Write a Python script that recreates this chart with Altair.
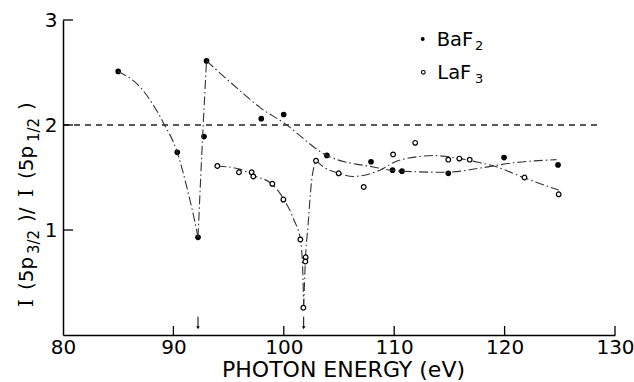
import altair as alt
import pandas as pd

# ---------------- values ----------------
baf2_energy = [85.0, 90.35, 92.23, 92.77, 93.0, 97.96, 99.99, 103.9, 107.9, 109.85, 110.7, 114.9, 119.95, 124.84]
baf2_ratio = [2.51, 1.74, 0.93, 1.89, 2.61, 2.06, 2.10, 1.71, 1.65, 1.57, 1.56, 1.54, 1.69, 1.62]

laf3_energy = [93.98, 95.94, 97.09, 97.24, 98.96, 99.96, 101.5, 101.98, 101.95, 101.77,
               102.92, 104.97, 107.24, 109.9, 111.9, 114.9, 115.9, 116.84, 121.8, 124.9]
laf3_ratio = [1.61, 1.55, 1.55, 1.51, 1.44, 1.29, 0.91, 0.74, 0.70, 0.26,
              1.66, 1.54, 1.41, 1.72, 1.83, 1.67, 1.68, 1.67, 1.50, 1.34]

# guide curves drawn through the data, in branches
baf2_fit_energy = [85.0, 87.0, 89.1, 90.35, 91.35, 91.9, 92.23,
                   92.23, 92.45, 92.7, 93.0,
                   93.0, 96.0, 97.8, 100.0, 103.9, 108.1, 110.5, 114.75, 117.8, 120.8, 124.7]
baf2_fit_ratio = [2.51, 2.36, 2.02, 1.74, 1.35, 1.10, 0.93,
                  0.93, 1.45, 2.0, 2.61,
                  2.61, 2.33, 2.17, 2.02, 1.71, 1.60, 1.56, 1.55, 1.59, 1.64, 1.67]
baf2_fit_branch = [0] * 7 + [1] * 4 + [2] * 11

laf3_fit_energy = [93.98, 96.0, 97.2, 98.9, 99.96, 100.9, 101.5, 101.72, 101.8,
                   101.8, 101.95, 102.2, 102.5, 102.92,
                   102.92, 103.6, 105.0, 106.3, 108.7, 110.1, 112.3, 113.5, 114.75, 116.0, 117.8, 119.0, 121.7, 124.9]
laf3_fit_ratio = [1.61, 1.58, 1.52, 1.44, 1.30, 1.10, 0.91, 0.60, 0.26,
                  0.26, 0.70, 1.05, 1.45, 1.66,
                  1.66, 1.60, 1.54, 1.51, 1.57, 1.65, 1.70, 1.71, 1.70, 1.68, 1.64, 1.61, 1.50, 1.38]
laf3_fit_branch = [0] * 9 + [1] * 5 + [2] * 14

x_ticks = [80, 90, 100, 110, 120, 130]
y_ticks = [1, 2, 3]
reference_ratio = [2.0]
reference_start = [80.0]
reference_end = [128.6]
threshold_energy = [92.23, 101.8]
arrow_top = [0.175, 0.175]
arrow_tip = [0.07, 0.07]

# ---------------- styling ----------------
FONT = "DejaVu Sans"
SERIF = "DejaVu Serif"
W, H = 552, 315
INK = "black"

x_scale = alt.Scale(domain=[80, 130], nice=False, zero=False)
y_scale = alt.Scale(domain=[0, 3], nice=False, zero=False)

x_axis = alt.Axis(values=x_ticks, title="PHOTON ENERGY (eV)", labelFlush=False,
                  labelPadding=2, titleBaseline="alphabetic", titleY=41.5, titleX=280,
                  titleFontSize=22, format="d")
y_axis = alt.Axis(values=y_ticks, title=None, labelPadding=6, labelFlush=False, format="d")


def X():
    return alt.X("energy:Q", scale=x_scale, axis=x_axis)


def Y(field="ratio"):
    return alt.Y(f"{field}:Q", scale=y_scale, axis=y_axis)


one = pd.DataFrame({"k": [0]})

pts_b = pd.DataFrame({"energy": baf2_energy, "ratio": baf2_ratio})
pts_l = pd.DataFrame({"energy": laf3_energy, "ratio": laf3_ratio})
fit_b = pd.DataFrame({"energy": baf2_fit_energy, "ratio": baf2_fit_ratio, "branch": baf2_fit_branch})
fit_l = pd.DataFrame({"energy": laf3_fit_energy, "ratio": laf3_fit_ratio, "branch": laf3_fit_branch})
ref = pd.DataFrame({"energy": reference_start, "energy2": reference_end, "ratio": reference_ratio})
arrows = pd.DataFrame({"energy": threshold_energy, "ratio": arrow_top, "tip": arrow_tip})
xt = pd.DataFrame({"energy": x_ticks[1:]})
yt = pd.DataFrame({"ratio": y_ticks})

dash_dot = [9, 3, 1.5, 3]

curve_b = alt.Chart(fit_b).mark_line(interpolate="monotone", color="#333", strokeWidth=1.1,
                                      strokeDash=dash_dot).encode(x=X(), y=Y(), detail="branch:N")
curve_l = alt.Chart(fit_l).mark_line(interpolate="monotone", color="#333", strokeWidth=1.1,
                                      strokeDash=dash_dot).encode(x=X(), y=Y(), detail="branch:N")

ref_line = alt.Chart(ref).mark_rule(color="#222", strokeWidth=1.4, strokeDash=[6, 5]).encode(
    x=X(), x2="energy2:Q", y=Y())

arrow_shaft = alt.Chart(arrows).mark_rule(color=INK, strokeWidth=1).encode(
    x=X(), y=Y(), y2="tip:Q")
arrow_head = alt.Chart(arrows).mark_point(shape="triangle-down", filled=True, color=INK,
                                          size=12, opacity=1).encode(x=X(), y=Y("tip"))

x_tick_marks = alt.Chart(xt).mark_rule(color=INK, strokeWidth=1.3).encode(
    x=X(), y=alt.value(H), y2=alt.value(H - 9))
y_tick_marks = alt.Chart(yt).mark_rule(color=INK, strokeWidth=1.3).encode(
    y=Y(), x=alt.value(0), x2=alt.value(10))

dots_b = alt.Chart(pts_b).mark_circle(size=32, color=INK, opacity=1).encode(x=X(), y=Y())
dots_l = alt.Chart(pts_l).mark_point(shape="circle", size=22, filled=True, fill="white",
                                     stroke=INK, strokeWidth=1.2, opacity=1).encode(x=X(), y=Y())


def label(text, x, y, size, font=FONT, angle=0):
    kw = dict(text=text, align="left", baseline="alphabetic", font=font, fontSize=size, color=INK)
    if angle:
        kw["angle"] = angle
    return alt.Chart(one).mark_text(**kw).encode(x=alt.value(x), y=alt.value(y))


# legend
legend = [
    alt.Chart(one).mark_circle(size=16, color=INK, opacity=1).encode(x=alt.value(359.7), y=alt.value(19)),
    label("BaF", 373.7, 26, 19.5),
    label("2", 412, 30, 13),
    alt.Chart(one).mark_point(shape="circle", size=14, filled=True, fill="white", stroke=INK,
                              strokeWidth=1.1, opacity=1).encode(x=alt.value(360.3), y=alt.value(52.3)),
    label("LaF", 374.3, 59, 19.5),
    label("3", 412, 63, 13),
]

# y-axis title  I (5p3/2)/I (5p1/2), rotated
MB, SB = -30, -24
ytitle = [
    label("I", MB, 287, 20, SERIF, 270),
    label("(5p", MB, 270, 20, FONT, 270),
    label("3/2", SB, 234, 15, FONT, 270),
    label(")/", MB, 202, 20, FONT, 270),
    label("I", MB, 177, 20, SERIF, 270),
    label("(5p", MB, 159, 20, FONT, 270),
    label("1/2", SB, 122, 15, FONT, 270),
    label(")", MB, 90, 20, FONT, 270),
]

chart = alt.layer(
    dots_b, ref_line, curve_b, curve_l, x_tick_marks, y_tick_marks, arrow_shaft, arrow_head,
    dots_l, *legend, *ytitle
).properties(
    width=W, height=H,
    padding={"left": 63, "top": 20, "right": 19, "bottom": 47},
    autosize=alt.AutoSizeParams(type="none"),
    background="white",
).configure_view(stroke=None).configure_axis(
    domainColor=INK, domainWidth=1.5, grid=False, ticks=False, tickSize=0,
    labelColor=INK, titleColor=INK, labelFont=FONT, titleFont=FONT,
    labelFontSize=20, titleFontSize=22, titleFontWeight="normal",
)

chart.save("out.html", embed_options={"renderer": "svg", "actions": False})
